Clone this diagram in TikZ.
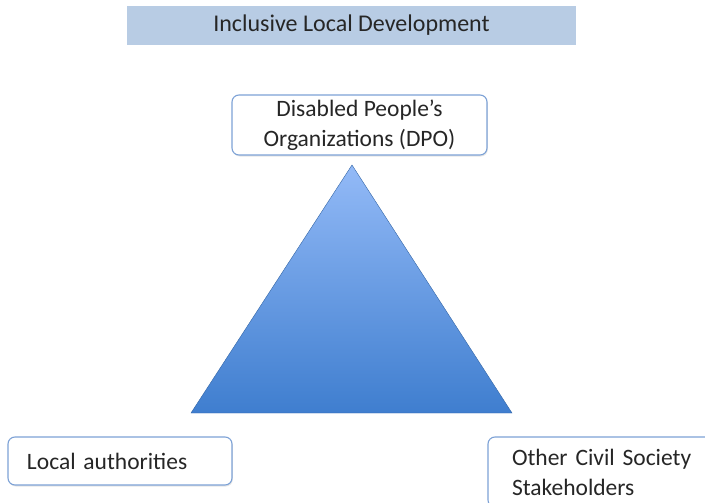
\documentclass[tikz,border=0pt]{standalone}
\usepackage{fontspec}
\setmainfont{Carlito}
\usetikzlibrary{shadows}
\definecolor{titlefill}{HTML}{B8CCE4}
\definecolor{boxline}{HTML}{7DA2D6}
\definecolor{tritop}{HTML}{93BAF7}
\definecolor{tribot}{HTML}{3F7ECF}
\tikzset{
  actor/.style={draw=boxline, line width=1.1pt, rounded corners=7pt, fill=white,
    drop shadow={opacity=0.2, shadow xshift=0.8pt, shadow yshift=-1.5pt},
    font=\fontsize{23.5}{30}\selectfont, text=black!85},
}
\begin{document}
\begin{tikzpicture}[x=1pt,y=-1pt]
\useasboundingbox (0,0) rectangle (705,503);

% title bar
\node[fill=titlefill, minimum width=449pt, minimum height=39pt, inner sep=0pt,
  font=\fontsize{24}{28}\selectfont, text=black!85] (title) at (351.5,25.5) {Inclusive Local Development};

% triangle
\coordinate (apex) at (352,165);
\coordinate (bl) at (191,413);
\coordinate (br) at (512,413);
\shade[top color=tritop, bottom color=tribot, draw=tribot!80!black, line width=0.4pt]
  (apex) -- (br) -- (bl) -- cycle;

% the three actors
\node[actor, minimum width=255pt, minimum height=60pt, align=center, inner sep=1pt]
  (dpo) at (359.5,125) {Disabled People's\\Organizations (DPO)};
\node[actor, text width=186pt, inner xsep=19pt, minimum height=48pt, align=left]
  (local) at (120,461) {Local authorities};
\node[actor, text width=186pt, inner xsep=24pt, minimum height=70pt, align=left]
  (civil) at (605,472) {Other Civil Society\\Stakeholders};

\end{tikzpicture}
\end{document}
